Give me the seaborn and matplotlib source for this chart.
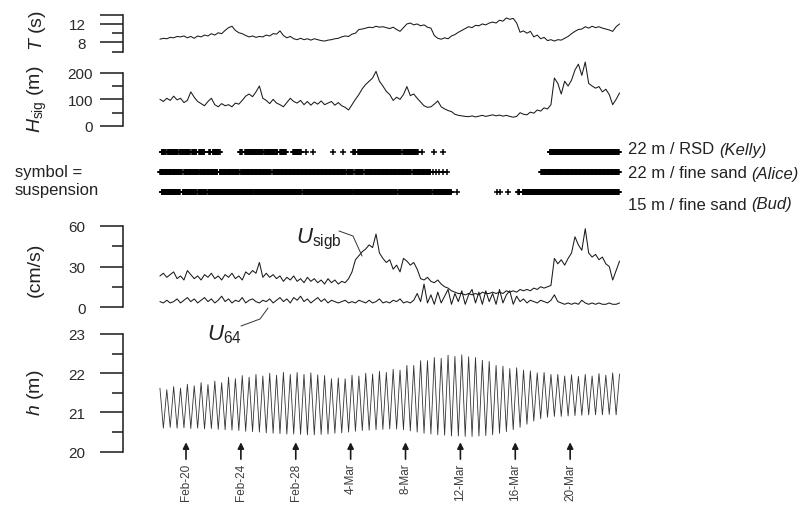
import numpy as np
import pandas as pd
import matplotlib
matplotlib.use("Agg")
import matplotlib.pyplot as plt
from matplotlib.lines import Line2D
import seaborn as sns

# ------------------------------------------------------------------ data
base_date = "2003-02-20"          # Feb-20 reference day (non-leap year)
first_offset_days = -1.9          # first sample relative to Feb-20
sample_step = "6h"

T_period = [8.7, 8.9, 8.8, 9.1, 9.0, 9.3, 9.2, 9.4, 9.0, 9.3,
            8.9, 9.4, 9.2, 9.6, 9.4, 9.9, 9.6, 10.1, 9.9, 10.6,
            11.2, 11.5, 10.6, 10.1, 9.9, 9.5, 9.2, 9.4, 9.1, 9.3,
            9.2, 9.6, 9.4, 9.9, 9.8, 10.5, 9.5, 9.0, 9.3, 8.8,
            8.6, 8.9, 8.6, 8.8, 8.5, 8.8, 8.6, 8.4, 8.3, 8.5,
            8.6, 8.8, 8.9, 9.2, 9.4, 9.3, 9.8, 10.0, 10.8, 10.9,
            11.1, 11.3, 11.2, 11.5, 11.3, 11.4, 11.2, 11.0, 11.3, 10.8,
            10.4, 11.2, 12.0, 12.2, 11.8, 12.0, 11.6, 11.8, 11.3, 11.1,
            9.5, 8.9, 8.7, 9.0, 8.8, 9.4, 9.7, 10.2, 10.6, 11.0,
            11.4, 11.2, 11.7, 11.6, 12.0, 11.8, 12.2, 12.4, 12.2, 12.8,
            12.6, 13.3, 13.0, 13.2, 12.2, 10.2, 10.5, 10.0, 10.4, 9.2,
            9.6, 8.8, 9.1, 8.4, 8.6, 8.3, 8.6, 8.5, 8.9, 9.3,
            9.9, 10.4, 10.8, 10.9, 11.4, 11.1, 11.5, 11.2, 11.4, 11.1,
            10.9, 10.7, 10.4, 11.4, 12.0]

H_sig = [100, 92, 104, 96, 112, 98, 104, 88, 96, 128,
         108, 92, 84, 76, 92, 104, 80, 72, 84, 76,
         80, 72, 86, 82, 96, 112, 120, 110, 128, 150,
         104, 96, 84, 100, 86, 80, 72, 88, 104, 92,
         86, 96, 80, 92, 78, 90, 82, 94, 80, 86,
         92, 78, 88, 76, 70, 60, 80, 100, 118, 140,
         156, 168, 180, 205, 168, 150, 130, 118, 96, 108,
         100, 118, 148, 114, 120, 104, 90, 76, 70, 72,
         82, 94, 72, 64, 58, 54, 44, 40, 38, 36,
         35, 38, 34, 37, 40, 36, 39, 42, 38, 41,
         37, 40, 36, 33, 36, 50, 44, 42, 52, 48,
         60, 56, 68, 64, 80, 180, 160, 120, 168, 150,
         172, 210, 232, 190, 240, 160, 150, 142, 148, 128,
         138, 118, 80, 100, 124]

U_sigb = [23, 25, 22, 24, 26, 21, 23, 20, 27, 24,
          21, 23, 20, 24, 22, 25, 21, 23, 20, 24,
          22, 25, 21, 23, 20, 26, 24, 27, 25, 33,
          22, 25, 22, 24, 21, 23, 19, 22, 20, 23,
          19, 21, 18, 22, 19, 21, 18, 20, 17, 21,
          18, 20, 17, 19, 18, 21, 26, 35, 38, 41,
          43, 46, 44, 54, 40, 36, 33, 35, 28, 31,
          26, 36, 34, 31, 33, 28, 21, 20, 22, 19,
          18, 20, 17, 15, 14, 12, 11, 10, 10, 9,
          10, 9, 10, 9, 11, 10, 10, 11, 10, 11,
          10, 12, 11, 12, 11, 13, 12, 13, 12, 14,
          13, 15, 14, 15, 16, 36, 32, 35, 31, 36,
          40, 52, 46, 42, 58, 40, 37, 39, 35, 37,
          32, 30, 20, 27, 34]

U_64 = [4, 3, 5, 3, 4, 6, 3, 5, 7, 4,
        6, 3, 5, 7, 4, 6, 3, 5, 8, 4,
        6, 3, 5, 4, 7, 3, 5, 6, 4, 3,
        5, 4, 6, 3, 5, 7, 4, 6, 3, 7,
        5, 8, 4, 6, 3, 5, 7, 4, 6, 3,
        5, 4, 3, 4, 5, 3, 4, 3, 5, 4,
        3, 5, 3, 4, 6, 3, 4, 3, 5, 4,
        6, 3, 4, 3, 5, 10, 4, 17, 3, 9,
        2, 11, 3, 8, 13, 2, 10, 4, 12, 2,
        9, 13, 3, 11, 2, 12, 4, 10, 2, 13,
        3, 9, 12, 2, 8, 4, 6, 3, 5, 4,
        3, 5, 4, 3, 5, 9, 4, 3, 2, 3,
        2, 3, 2, 5, 3, 2, 3, 2, 3, 2,
        2, 3, 2, 2, 3]

# water depth: alternating high / low water levels (m)
h_depth = [21.62, 20.60, 21.58, 20.62, 21.66, 20.60, 21.62, 20.61, 21.72, 20.59,
           21.68, 20.60, 21.76, 20.58, 21.71, 20.59, 21.80, 20.57, 21.76, 20.56,
           21.90, 20.55, 21.86, 20.54, 21.94, 20.52, 21.90, 20.51, 21.97, 20.50,
           21.93, 20.48, 22.00, 20.47, 21.95, 20.46, 22.02, 20.45, 21.97, 20.45,
           22.02, 20.44, 21.97, 20.43, 22.01, 20.43, 21.96, 20.44, 21.94, 20.45,
           21.86, 20.47, 21.88, 20.48, 21.86, 20.50, 21.95, 20.52, 21.93, 20.54,
           22.00, 20.55, 21.98, 20.56, 22.05, 20.57, 22.02, 20.58, 22.10, 20.58,
           22.08, 20.56, 22.20, 20.53, 22.20, 20.50, 22.32, 20.47, 22.32, 20.45,
           22.40, 20.43, 22.38, 20.42, 22.46, 20.40, 22.43, 20.40, 22.47, 20.39,
           22.42, 20.39, 22.40, 20.40, 22.33, 20.41, 22.30, 20.43, 22.20, 20.47,
           22.18, 20.51, 22.12, 20.56, 22.14, 20.62, 22.08, 20.70, 22.06, 20.78,
           22.01, 20.84, 22.02, 20.88, 21.97, 20.90, 21.97, 20.90, 21.93, 20.91,
           21.96, 20.92, 21.92, 20.93, 21.97, 20.94, 21.93, 20.94, 21.99, 20.94,
           21.95, 20.95, 22.01, 20.94, 21.98]

# suspension events (days relative to Feb-20): continuous spans and single events
kelly_spans = [(-1.77, -1.5), (-1.35, -0.6), (-0.45, 0.3), (0.45, 0.75), (0.95, 1.35),
               (1.7, 1.8), (1.95, 2.45), (3.95, 4.1), (4.3, 5.6), (5.75, 6.7),
               (6.85, 7.3), (7.8, 8.4), (12.2, 12.35), (12.55, 15.7), (15.85, 16.9),
               (26.5, 31.55)]
kelly_single = [8.75, 9.25, 10.75, 11.45, 17.2, 18.1, 18.75]
alice_spans = [(-1.9, -0.3), (-0.15, 0.9), (1.0, 2.3), (2.45, 3.9), (4.0, 6.2),
               (6.35, 11.6), (11.75, 12.2), (12.35, 12.9), (13.05, 16.4), (16.55, 17.8),
               (25.9, 31.55)]
alice_single = [18.0, 18.2, 18.45, 18.7, 19.0]
bud_spans = [(-1.77, -0.4), (-0.25, 0.75), (0.9, 1.5), (1.6, 4.9), (5.0, 8.45),
             (8.55, 12.1), (12.2, 15.4), (15.5, 17.9), (18.0, 19.35), (24.2, 24.3),
             (24.55, 31.55)]
bud_single = [19.75, 22.7, 22.9, 23.45]

station_labels = ["22 m / RSD ", "22 m / fine sand ", "15 m / fine sand "]
station_names = ["(Kelly)", "(Alice)", "(Bud)"]

date_tick_days = [0, 4, 8, 12, 16, 20, 24, 28]
date_tick_labels = ["Feb-20", "Feb-24", "Feb-28", "4-Mar", "8-Mar", "12-Mar", "16-Mar", "20-Mar"]

# ------------------------------------------------------------------ style
sns.set_theme(style="white")
plt.rcParams["font.family"] = ["Liberation Sans", "DejaVu Sans"]
plt.rcParams["mathtext.fontset"] = "custom"
plt.rcParams["mathtext.rm"] = "Liberation Sans"
plt.rcParams["mathtext.it"] = "Liberation Sans:italic"
plt.rcParams["mathtext.sf"] = "Liberation Sans"
INK = "#1a1a1a"

W, H = 805, 506
fig = plt.figure(figsize=(W / 100, H / 100), dpi=100)
fig.patch.set_facecolor("white")

base = pd.Timestamp(base_date)
times = pd.date_range(base + pd.Timedelta(days=first_offset_days),
                      periods=len(T_period), freq=sample_step)
df = pd.DataFrame({"time": times, "T": T_period, "Hsig": H_sig,
                   "Usigb": U_sigb, "U64": U_64, "h": h_depth})

X0, X1 = 123, 625
xlim = (base + pd.Timedelta(days=(X0 - 186) / 13.72),
        base + pd.Timedelta(days=(X1 - 186) / 13.72))


def px_axes(y0, y1):
    return fig.add_axes([X0 / W, 1 - y1 / H, (X1 - X0) / W, (y1 - y0) / H])


def style(ax, ylim, bounds, major, labels, minor, pad):
    ax.set_facecolor("none")
    for s in ["top", "right", "bottom"]:
        ax.spines[s].set_visible(False)
    ax.spines["left"].set_bounds(*bounds)
    ax.spines["left"].set_linewidth(1.1)
    ax.spines["left"].set_color(INK)
    ax.set_ylim(*ylim)
    ax.set_xlim(*xlim)
    ax.set_yticks(major)
    ax.set_yticklabels(labels)
    ax.set_yticks(minor, minor=True)
    ax.tick_params(axis="y", which="major", left=True, length=16.5, width=1.1,
                   pad=pad, labelsize=11, color=INK, labelcolor="#2a2a2a", direction="out")
    ax.tick_params(axis="y", which="minor", left=True, length=8, width=1.1,
                   color=INK, direction="out")
    ax.tick_params(axis="x", bottom=False, labelbottom=False)
    ax.set_xlabel("")
    ax.set_ylabel("")


line_kw = dict(color=INK, linewidth=0.75, estimator=None, legend=False)

# T panel
axT = px_axes(15.7, 52.7)
sns.lineplot(data=df, x="time", y="T", ax=axT, **line_kw)
style(axT, (6, 14), (6, 14), [8, 12, 14], ["8", "12", ""], [6, 10], 10.5)

# Hsig panel
axH = px_axes(60, 127)
sns.lineplot(data=df, x="time", y="Hsig", ax=axH, **line_kw)
style(axH, (0, 200 + 13.7 / 0.2665), (0, 200), [0, 100, 200], ["0", "100", "200"], [50, 150], 5)

# suspension symbol panel
axS = px_axes(143, 203)
axS.set_facecolor("none")
axS.set_xlim(*xlim)
axS.set_ylim(-0.5, 2.5)
axS.axis("off")
for row, spans, singles in [(2, kelly_spans, kelly_single),
                            (1, alice_spans, alice_single),
                            (0, bud_spans, bud_single)]:
    pts = []
    for a, b in spans:
        pts.append(pd.date_range(base + pd.Timedelta(days=a), base + pd.Timedelta(days=b), freq="1h"))
    pts.append(pd.DatetimeIndex([base + pd.Timedelta(days=s) for s in singles]))
    allpts = pts[0]
    for p in pts[1:]:
        allpts = allpts.append(p)
    axS.plot(allpts, [row] * len(allpts), linestyle="none", marker="+",
             markersize=4.4, markeredgewidth=1.1, color="black")

# U panel
axU = px_axes(227, 308)
sns.lineplot(data=df, x="time", y="Usigb", ax=axU, **line_kw)
sns.lineplot(data=df, x="time", y="U64", ax=axU, **line_kw)
style(axU, (0, 60), (0, 60), [0, 30, 60], ["0", "30", "60"], [15, 45], 10.5)

# h panel
axh = px_axes(335, 452.7)
sns.lineplot(data=df, x="time", y="h", ax=axh, color="#333333", linewidth=0.6,
             estimator=None, legend=False)
style(axh, (20, 23), (20, 23), [20, 21, 22, 23], ["20", "21", "22", "23"],
      [20.5, 21.5, 22.5], 10.5)

for d, lab in zip(date_tick_days, date_tick_labels):
    axh.annotate(lab, xy=(base + pd.Timedelta(days=d), 20.24), xytext=(0, -14.5),
                 textcoords="offset points", rotation=90, ha="center", va="top",
                 fontsize=8.5, color="#3d3d3d", annotation_clip=False,
                 arrowprops=dict(arrowstyle="-|>", color=INK, lw=1.2,
                                 shrinkA=0, shrinkB=0, mutation_scale=9))

for ax in (axT, axH, axU, axh):
    for ln in ax.get_lines():
        ln.set_clip_on(False)

# ------------------------------------------------------------------ texts


def ftext(x, y, s, **kw):
    fig.text(x / W, 1 - y / H, s, **kw)


ylab_kw = dict(rotation=90, ha="center", va="center", fontsize=14, color="#222222")
ftext(37, 31, r"$T$ (s)", **ylab_kw)
ftext(37, 99, r"$H_{\mathrm{sig}}$ (m)", **ylab_kw)
ftext(35, 270, "(cm/s)", **ylab_kw)
ftext(35, 393, r"$h$ (m)", **ylab_kw)

ftext(15, 172, "symbol =", fontsize=12, ha="left", va="center", color="#222222")
ftext(15, 190, "suspension", fontsize=12, ha="left", va="center", color="#222222")

for yy, lab, nm in zip([150, 174, 205], station_labels, station_names):
    t = fig.text(628 / W, 1 - yy / H, lab, fontsize=12, ha="left", va="center", color="#222222")
    fig.canvas.draw()
    bb = t.get_window_extent()
    fig.text(bb.x1 / W, 1 - yy / H, nm, fontsize=12, ha="left", va="center",
             style="italic", color="#222222")

ftext(296, 243, r"$U_{\mathrm{sigb}}$", fontsize=16, ha="left", va="baseline", color="#222222")
ftext(207, 340, r"$U_{64}$", fontsize=16, ha="left", va="baseline", color="#222222")


def leader(xs, ys):
    fig.add_artist(Line2D([x / W for x in xs], [1 - y / H for y in ys],
                          transform=fig.transFigure, color="#333333", lw=0.7))


leader([339, 353, 362], [232, 237, 257])
leader([241, 260, 268], [327, 320, 309])

fig.savefig("out.png", dpi=100, facecolor="white")
